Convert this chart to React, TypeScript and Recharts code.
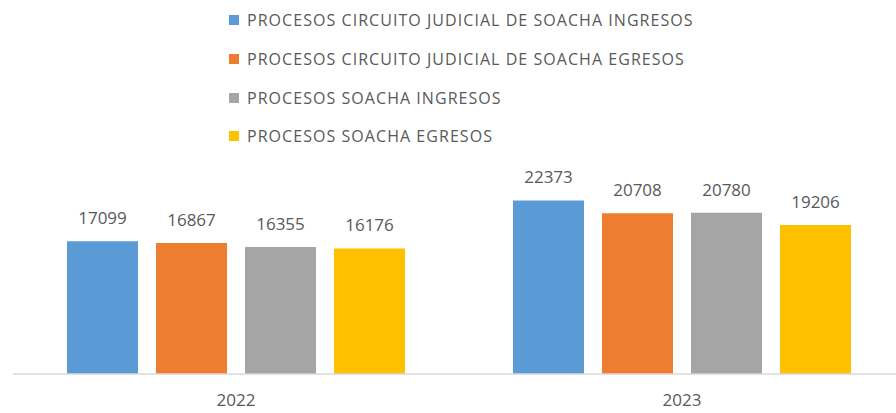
import React from "react";
import { BarChart, Bar, XAxis, YAxis, Legend, LabelList } from "recharts";

const categories = ["2022", "2023"];
const circuitoIngresos = [17099, 22373];
const circuitoEgresos = [16867, 20708];
const soachaIngresos = [16355, 20780];
const soachaEgresos = [16176, 19206];

const seriesNames = [
  "PROCESOS CIRCUITO JUDICIAL DE SOACHA INGRESOS",
  "PROCESOS CIRCUITO JUDICIAL DE SOACHA EGRESOS",
  "PROCESOS SOACHA INGRESOS",
  "PROCESOS SOACHA EGRESOS",
];
const colors = ["#5B9BD5", "#ED7D31", "#A5A5A5", "#FFC000"];

const data = categories.map((c, i) => ({
  year: c,
  s0: circuitoIngresos[i],
  s1: circuitoEgresos[i],
  s2: soachaIngresos[i],
  s3: soachaEgresos[i],
}));

const FONT = "'Open Sans', sans-serif";

const LegendContent = () => (
  <div style={{ fontFamily: FONT }}>
    {seriesNames.map((n, i) => (
      <div
        key={n}
        style={{ display: "flex", alignItems: "center", height: 38.7 }}
      >
        <span
          style={{
            display: "inline-block",
            width: 10,
            height: 10,
            background: colors[i],
            marginRight: 8,
          }}
        />
        <span
          style={{
            fontSize: 16,
            letterSpacing: 1.05,
            color: "#595959",
            whiteSpace: "nowrap",
          }}
        >
          {n}
        </span>
      </div>
    ))}
  </div>
);

export default function App() {
  return (
    <div
      style={{
        position: "absolute",
        left: 0,
        top: 0,
        width: 896,
        height: 413,
        overflow: "hidden",
        background: "#fff",
      }}
    >
      <BarChart
        width={905}
        height={413}
        data={data}
        margin={{ top: 180, right: 0, bottom: 0, left: 13 }}
        barSize={71}
        barGap={18}
      >
        <XAxis
          dataKey="year"
          axisLine={{ stroke: "#D9D9D9", strokeWidth: 1.5 }}
          tickLine={false}
          tickSize={0}
          tickMargin={20}
          height={39}
          tick={{ fill: "#595959", fontSize: 17, fontFamily: FONT }}
        />
        <YAxis hide domain={[0, 25000]} />
        <Legend
          layout="vertical"
          verticalAlign="middle"
          align="center"
          content={<LegendContent />}
          wrapperStyle={{ position: "absolute", top: 1, left: 229, width: 660, height: 160 }}
        />
        {["s0", "s1", "s2", "s3"].map((k, i) => (
          <Bar
            key={k}
            dataKey={k}
            name={seriesNames[i]}
            fill={colors[i]}
            isAnimationActive={false}
          >
            <LabelList
              dataKey={k}
              position="top"
              offset={17}
              style={{ fill: "#595959", fontSize: 17, fontFamily: FONT }}
            />
          </Bar>
        ))}
      </BarChart>
    </div>
  );
}
